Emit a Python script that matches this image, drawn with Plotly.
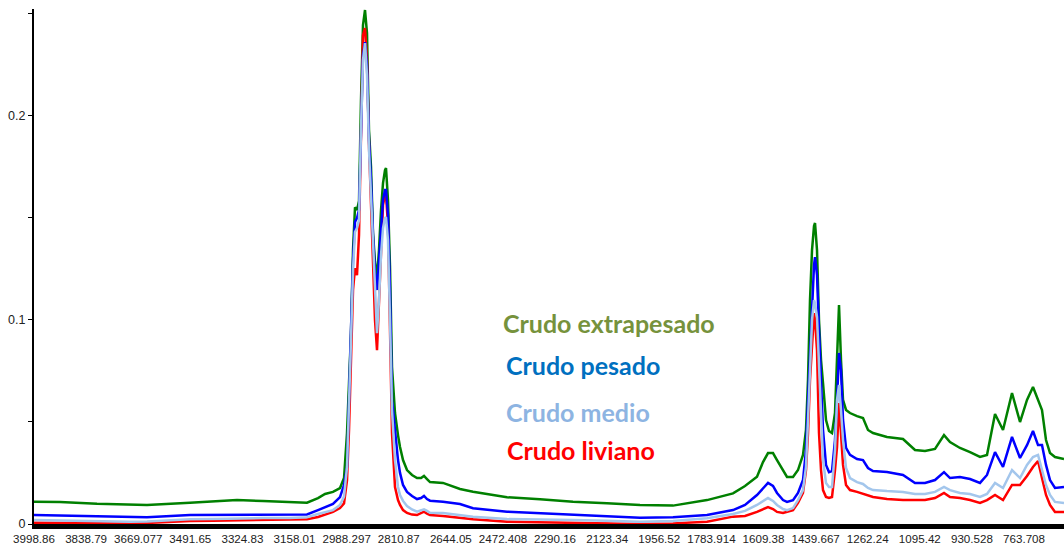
import plotly.graph_objects as go

# Wavenumber (cm-1) sample positions
wavenumber = [3998.9, 3913.9, 3793.0, 3685.2, 3629.6, 3489.1, 3413.9, 3335.5, 3250.5, 3162.3,
              3106.8, 3070.8, 3047.9, 3021.8, 2998.9, 2985.8, 2976.0, 2969.5, 2963.0, 2956.4,
              2949.9, 2943.4, 2936.8, 2930.3, 2923.8, 2917.2, 2910.7, 2904.2, 2897.6, 2891.1,
              2884.6, 2878.0, 2871.5, 2864.9, 2858.4, 2851.9, 2848.6, 2842.1, 2835.5, 2829.0,
              2819.2, 2809.4, 2802.8, 2793.0, 2780.0, 2763.6, 2747.3, 2734.2, 2724.4, 2714.6,
              2704.8, 2662.4, 2606.8, 2564.3, 2453.2, 2345.3, 2237.5, 2126.4, 2018.6, 1910.8,
              1799.6, 1714.7, 1675.5, 1636.3, 1616.7, 1600.3, 1584.0, 1570.9, 1551.3, 1538.2,
              1518.6, 1502.3, 1486.0, 1476.2, 1469.6, 1463.1, 1456.5, 1450.0, 1446.7, 1440.2,
              1433.7, 1427.1, 1420.6, 1410.8, 1401.0, 1391.2, 1381.4, 1374.8, 1368.3, 1361.8,
              1355.2, 1345.4, 1332.4, 1309.5, 1289.9, 1273.6, 1257.2, 1211.5, 1159.2, 1120.0,
              1087.3, 1054.6, 1025.2, 1005.6, 973.0, 940.2, 907.6, 884.7, 858.5, 832.4,
              803.0, 776.8, 754.0, 734.4, 718.0, 705.0, 691.9, 678.8, 662.5, 633.1]

crudo_extrapesado = [0.0109, 0.0108, 0.0099, 0.0095, 0.0093, 0.0104, 0.0109, 0.0117, 0.0113, 0.0108,
                     0.0104, 0.0127, 0.0147, 0.0157, 0.0176, 0.0225, 0.0445, 0.0690, 0.0934, 0.1340,
                     0.1550, 0.1536, 0.1580, 0.2074, 0.2441, 0.2515, 0.2402, 0.1928, 0.1747, 0.1424,
                     0.1282, 0.1208, 0.1340, 0.1536, 0.1668, 0.1732, 0.1742, 0.1585, 0.1257, 0.0768,
                     0.0543, 0.0435, 0.0377, 0.0313, 0.0264, 0.0240, 0.0225, 0.0225, 0.0235, 0.0220,
                     0.0205, 0.0201, 0.0171, 0.0158, 0.0131, 0.0121, 0.0109, 0.0101, 0.0093, 0.0090,
                     0.0117, 0.0150, 0.0186, 0.0231, 0.0303, 0.0347, 0.0347, 0.0313, 0.0264, 0.0230,
                     0.0230, 0.0264, 0.0338, 0.0460, 0.0705, 0.1096, 0.1340, 0.1458, 0.1473, 0.1340,
                     0.0998, 0.0802, 0.0690, 0.0509, 0.0455, 0.0445, 0.0543, 0.0768, 0.1071, 0.0802,
                     0.0607, 0.0558, 0.0543, 0.0528, 0.0519, 0.0460, 0.0445, 0.0426, 0.0416, 0.0362,
                     0.0357, 0.0367, 0.0435, 0.0401, 0.0372, 0.0352, 0.0328, 0.0338, 0.0538, 0.0460,
                     0.0641, 0.0499, 0.0607, 0.0670, 0.0602, 0.0558, 0.0411, 0.0347, 0.0328, 0.0318]

crudo_pesado = [0.0044, 0.0042, 0.0036, 0.0034, 0.0033, 0.0044, 0.0044, 0.0046, 0.0047, 0.0047,
                0.0047, 0.0068, 0.0081, 0.0098, 0.0132, 0.0191, 0.0279, 0.0607, 0.0900, 0.1292,
                0.1478, 0.1497, 0.1536, 0.1977, 0.2295, 0.2358, 0.2246, 0.1879, 0.1683, 0.1414,
                0.1233, 0.1145, 0.1282, 0.1463, 0.1585, 0.1634, 0.1634, 0.1512, 0.1145, 0.0607,
                0.0445, 0.0313, 0.0250, 0.0191, 0.0157, 0.0137, 0.0122, 0.0127, 0.0137, 0.0122,
                0.0114, 0.0109, 0.0098, 0.0077, 0.0060, 0.0052, 0.0044, 0.0039, 0.0031, 0.0033,
                0.0044, 0.0068, 0.0093, 0.0142, 0.0176, 0.0201, 0.0186, 0.0152, 0.0117, 0.0108,
                0.0117, 0.0152, 0.0215, 0.0362, 0.0607, 0.0851, 0.1096, 0.1267, 0.1306, 0.1218,
                0.0949, 0.0705, 0.0460, 0.0289, 0.0254, 0.0259, 0.0411, 0.0607, 0.0837, 0.0753,
                0.0509, 0.0372, 0.0338, 0.0318, 0.0313, 0.0274, 0.0259, 0.0254, 0.0240, 0.0201,
                0.0201, 0.0215, 0.0254, 0.0225, 0.0230, 0.0220, 0.0201, 0.0240, 0.0352, 0.0279,
                0.0426, 0.0323, 0.0386, 0.0455, 0.0386, 0.0386, 0.0289, 0.0215, 0.0176, 0.0181]

crudo_medio = [0.0020, 0.0017, 0.0013, 0.0011, 0.0012, 0.0023, 0.0024, 0.0027, 0.0029, 0.0029,
               0.0033, 0.0049, 0.0059, 0.0068, 0.0093, 0.0134, 0.0279, 0.0558, 0.0900, 0.1243,
               0.1429, 0.1448, 0.1487, 0.1928, 0.2270, 0.2353, 0.2197, 0.1830, 0.1610, 0.1340,
               0.1096, 0.0934, 0.1096, 0.1316, 0.1448, 0.1497, 0.1502, 0.1389, 0.0998, 0.0558,
               0.0313, 0.0181, 0.0142, 0.0113, 0.0088, 0.0071, 0.0060, 0.0066, 0.0072, 0.0064,
               0.0055, 0.0054, 0.0044, 0.0036, 0.0024, 0.0023, 0.0020, 0.0016, 0.0011, 0.0015,
               0.0028, 0.0049, 0.0064, 0.0093, 0.0113, 0.0127, 0.0113, 0.0093, 0.0073, 0.0068,
               0.0078, 0.0117, 0.0166, 0.0279, 0.0509, 0.0768, 0.0998, 0.1096, 0.1081, 0.1013,
               0.0753, 0.0509, 0.0313, 0.0201, 0.0181, 0.0181, 0.0362, 0.0607, 0.0680, 0.0558,
               0.0411, 0.0274, 0.0225, 0.0205, 0.0196, 0.0176, 0.0166, 0.0161, 0.0157, 0.0147,
               0.0147, 0.0157, 0.0181, 0.0166, 0.0152, 0.0147, 0.0132, 0.0147, 0.0201, 0.0176,
               0.0264, 0.0225, 0.0289, 0.0328, 0.0338, 0.0264, 0.0191, 0.0142, 0.0108, 0.0103]

crudo_liviano = [0.0006, 0.0005, 0.0003, 0.0003, 0.0005, 0.0015, 0.0016, 0.0017, 0.0020, 0.0020,
                 0.0023, 0.0034, 0.0044, 0.0059, 0.0078, 0.0101, 0.0215, 0.0460, 0.0802, 0.1145,
                 0.1252, 0.1218, 0.1414, 0.1977, 0.2392, 0.2427, 0.2270, 0.1854, 0.1585, 0.1243,
                 0.0998, 0.0851, 0.1071, 0.1365, 0.1561, 0.1610, 0.1610, 0.1463, 0.0949, 0.0445,
                 0.0181, 0.0117, 0.0093, 0.0068, 0.0054, 0.0046, 0.0044, 0.0054, 0.0060, 0.0051,
                 0.0044, 0.0039, 0.0028, 0.0023, 0.0011, 0.0008, 0.0003, 0.0001, 0.0000, 0.0003,
                 0.0011, 0.0036, 0.0039, 0.0059, 0.0073, 0.0083, 0.0073, 0.0059, 0.0054, 0.0059,
                 0.0068, 0.0103, 0.0152, 0.0264, 0.0445, 0.0705, 0.0851, 0.1032, 0.0998, 0.0851,
                 0.0445, 0.0264, 0.0166, 0.0132, 0.0127, 0.0132, 0.0264, 0.0377, 0.0592, 0.0460,
                 0.0289, 0.0191, 0.0166, 0.0157, 0.0147, 0.0137, 0.0132, 0.0122, 0.0117, 0.0117,
                 0.0117, 0.0127, 0.0152, 0.0132, 0.0127, 0.0117, 0.0103, 0.0117, 0.0142, 0.0117,
                 0.0191, 0.0191, 0.0235, 0.0279, 0.0308, 0.0225, 0.0142, 0.0093, 0.0059, 0.0059]

tick_labels = ["3998.86", "3838.79", "3669.077", "3491.65", "3324.83", "3158.01", "2988.297",
               "2810.87", "2644.05", "2472.408", "2290.16", "2123.34", "1956.52", "1783.914",
               "1609.38", "1439.667", "1262.24", "1095.42", "930.528", "763.708"]

series_names = ["Crudo extrapesado", "Crudo liviano", "Crudo pesado", "Crudo medio"]
line_colors = {"Crudo extrapesado": "#008000", "Crudo pesado": "#0000FF",
               "Crudo medio": "#A3C6EC", "Crudo liviano": "#FF0000"}
label_colors = {"Crudo extrapesado": "#76923C", "Crudo pesado": "#0070C0",
                "Crudo medio": "#8DB4E2", "Crudo liviano": "#FF0000"}
series_values = {"Crudo extrapesado": crudo_extrapesado, "Crudo pesado": crudo_pesado,
                 "Crudo medio": crudo_medio, "Crudo liviano": crudo_liviano}

# category-style axis: labels evenly spaced between first and last label
first, last = 3998.86, 763.708
step = (first - last) / (len(tick_labels) - 1)
tick_vals = [first - i * step for i in range(len(tick_labels))]

fig = go.Figure()
for name in series_names:
    fig.add_trace(go.Scatter(x=wavenumber, y=series_values[name], mode="lines", name=name,
                             line=dict(color=line_colors[name], width=2.5), hoverinfo="skip"))

label_pos = [("Crudo extrapesado", 0.4535, 0.390), ("Crudo pesado", 0.4563, 0.3087),
             ("Crudo medio", 0.4563, 0.2175), ("Crudo liviano", 0.4573, 0.1437)]
for name, px, py in label_pos:
    fig.add_annotation(xref="paper", yref="paper", x=px, y=py, text="<b>%s</b>" % name,
                       showarrow=False, xanchor="left", yanchor="middle",
                       font=dict(family="Lato", size=25, color=label_colors[name]))

fig.update_layout(
    width=1064, height=546, margin=dict(l=34, r=0, t=9, b=22),
    paper_bgcolor="white", plot_bgcolor="white", showlegend=False,
    font=dict(family="Liberation Sans, Arial", color="#222"),
    xaxis=dict(range=[first, 633.1], tickvals=tick_vals, ticktext=tick_labels,
               showgrid=False, zeroline=False, showline=True, linecolor="black", linewidth=5,
               ticks="", tickfont=dict(size=11.6, color="#222")),
    yaxis=dict(range=[0, 0.252], tickvals=[0, 0.1, 0.2], ticktext=["0", "0.1", "0.2"],
               showgrid=False, zeroline=False, showline=True, linecolor="black", linewidth=2,
               ticks="outside", ticklen=4, tickwidth=1, tickcolor="black",
               minor=dict(tickvals=[0.05, 0.15, 0.25], ticks="outside", ticklen=4, tickcolor="black"),
               tickfont=dict(size=12.5, color="#222")),
)

fig.write_html("out.html")
